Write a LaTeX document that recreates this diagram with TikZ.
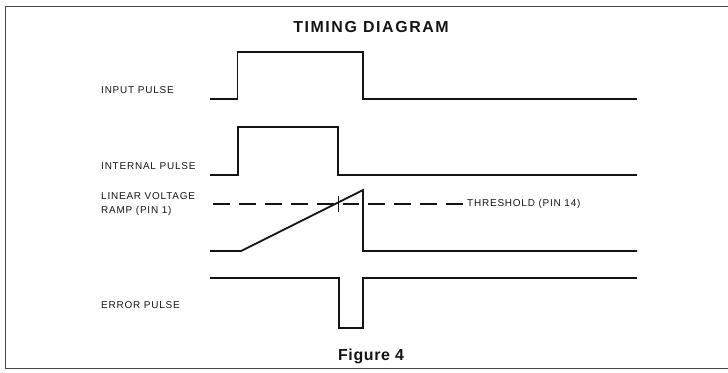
\documentclass[tikz,border=0pt]{standalone}
\usepackage{fontspec}
\setmainfont{Liberation Sans}
\newfontfamily\sigfont[LetterSpace=8]{Liberation Sans}
\newfontfamily\ttlfont[LetterSpace=10]{Liberation Sans}
\newfontfamily\figfont[LetterSpace=4]{Liberation Sans}
\usepackage{xcolor}
\definecolor{inkLine}{RGB}{20,20,20}
\definecolor{frameLine}{RGB}{70,70,70}
\tikzset{
    every node/.append style={align=left,text=inkLine},
    sig/.style={draw=inkLine,line width=1.8pt,line join=miter},
    thr/.style={draw=inkLine,line width=1.1pt,dash pattern=on 17pt off 9pt},
    tick/.style={draw=inkLine,line width=0.7pt},
    frame/.style={draw=frameLine,line width=0.9pt},
    lbl/.style={font=\sigfont\fontsize{10}{14}\selectfont,inner sep=0pt,anchor=west},
    ttl/.style={font=\ttlfont\bfseries\fontsize{16}{18}\selectfont,inner sep=0pt},
    figcap/.style={font=\figfont\bfseries\fontsize{16}{18}\selectfont,inner sep=0pt}
}
\begin{document}
\begin{tikzpicture}[x=1bp,y=-1bp]
    \useasboundingbox (0,0) rectangle (728,372);
    \draw[frame] (728,6) -- (5.5,6) -- (5.5,368) -- (728,368);

    \node[ttl] (title) at (371,27) {TIMING DIAGRAM};
    \node[figcap] (fig) at (371,356) {Figure 4};

    \node[lbl] (inLbl)  at (101,90.5)  {INPUT PULSE};
    \node[lbl] (intLbl) at (101,166.5) {INTERNAL PULSE};
    \node[lbl] (rampLbl) at (101,204.5) {LINEAR VOLTAGE\\RAMP (PIN 1)};
    \node[lbl] (thrLbl) at (467,204)   {THRESHOLD (PIN 14)};
    \node[lbl] (errLbl) at (101,305.5) {ERROR PULSE};

    % waveforms
    \draw[sig] (210,99) -- (237.5,99) -- (237.5,52) -- (363,52) -- (363,99) -- (637,99);
    \draw[sig] (210,175) -- (238,175) -- (238,127) -- (338,127) -- (338,175) -- (637,175);
    \draw[sig] (210,251) -- (241,251) -- (363,190) -- (363,251) -- (637,251);
    \draw[sig] (210,278) -- (339,278) -- (339,328) -- (363,328) -- (363,278) -- (637,278);

    % threshold
    \draw[thr] (213,204) -- (thrLbl.west) ++(-10,0);
    \draw[tick] (338,196) -- (338,212);
\end{tikzpicture}
\end{document}
